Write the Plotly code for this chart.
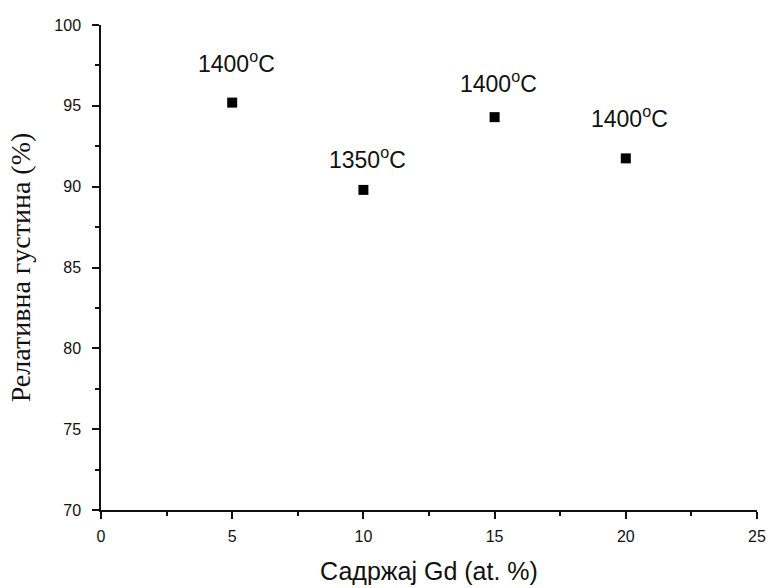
import plotly.graph_objects as go

gd_content = [5, 10, 15, 20]
rel_density = [95.2, 89.8, 94.3, 91.75]
labels = ["1400<sup>o</sup>C", "1350<sup>o</sup>C", "1400<sup>o</sup>C", "1400<sup>o</sup>C"]
label_y = [97.7, 91.75, 96.5, 94.3]

fig = go.Figure()
fig.add_trace(go.Scatter(
    x=gd_content, y=rel_density, mode="markers",
    marker=dict(symbol="square", size=10, color="black"),
    showlegend=False, cliponaxis=False,
))
for xv, yv, t in zip(gd_content, label_y, labels):
    fig.add_annotation(x=xv, y=yv, text=t, showarrow=False, xshift=4,
                       font=dict(family="Liberation Sans, Arial", size=23, color="#111"))

axis_common = dict(
    showline=True, linecolor="#111", linewidth=1.5, mirror=False,
    ticks="outside", ticklen=7, tickwidth=1.5, tickcolor="#111",
    showgrid=False, zeroline=False,
    tickfont=dict(family="Liberation Sans, Arial", size=16, color="#111"),
)
fig.update_xaxes(range=[0, 25], dtick=5, tick0=0, ticklabelstandoff=4,
                 minor=dict(dtick=2.5, ticks="outside", ticklen=4, tickwidth=1.5, tickcolor="#111", showgrid=False),
                 title=dict(text="Садржај Gd (at. %)", standoff=19,
                            font=dict(family="Liberation Sans, Arial", size=25, color="#111")),
                 **axis_common)
fig.update_yaxes(range=[70, 100], dtick=5, tick0=70, ticklabelstandoff=8,
                 minor=dict(dtick=2.5, ticks="outside", ticklen=4, tickwidth=1.5, tickcolor="#111", showgrid=False),
                 title=dict(text="Релативна густина (%)", standoff=16,
                            font=dict(family="Liberation Serif, Times New Roman", size=28, color="#111")),
                 **axis_common)
fig.update_layout(
    width=768, height=588,
    margin=dict(l=101, r=11, t=25, b=78, autoexpand=False),
    plot_bgcolor="white", paper_bgcolor="white",
)
fig.write_html("out.html", config={"displayModeBar": False},
               post_script="document.body.style.margin='0';")
